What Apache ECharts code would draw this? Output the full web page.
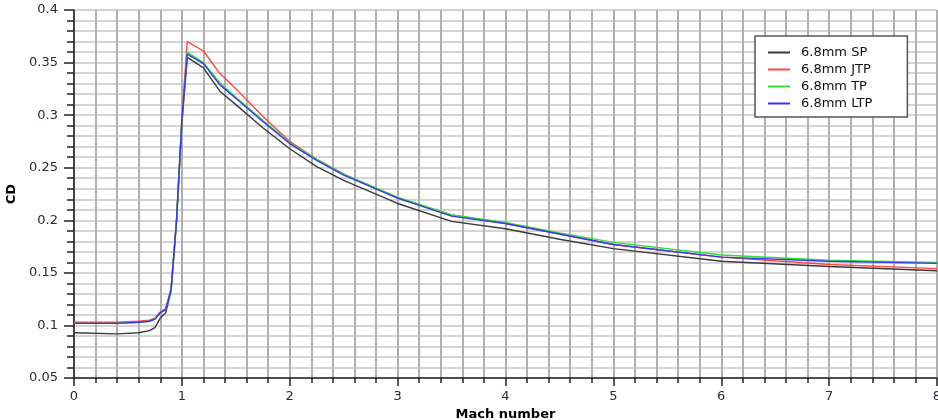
<!DOCTYPE html>
<html>
<head>
<meta charset="utf-8">
<script src="https://cdn.jsdelivr.net/npm/echarts@6/dist/echarts.min.js"></script>
<style>
html, body { margin: 0; padding: 0; background: #fff; }
#chart { width: 938px; height: 420px; }
</style>
</head>
<body>
<div id="chart"></div>
<script>
// Mach numbers shared by every series
var mach = [0, 0.4, 0.6, 0.7, 0.75, 0.8, 0.85, 0.9, 0.95, 1.0, 1.05, 1.2, 1.35, 1.5, 1.75, 2.0, 2.25, 2.5, 3.0, 3.5, 4.0, 4.5, 5.0, 6.0, 7.0, 8.0];
var cdSP  = [0.093, 0.092, 0.093, 0.095, 0.098, 0.107, 0.112, 0.133, 0.198, 0.292, 0.355, 0.345, 0.323, 0.310, 0.288, 0.268, 0.251, 0.238, 0.216, 0.199, 0.192, 0.182, 0.173, 0.161, 0.156, 0.152];
var cdJTP = [0.103, 0.103, 0.104, 0.105, 0.107, 0.113, 0.116, 0.135, 0.200, 0.298, 0.370, 0.361, 0.340, 0.325, 0.299, 0.275, 0.258, 0.244, 0.221, 0.205, 0.197, 0.187, 0.177, 0.165, 0.158, 0.154];
var cdTP  = [0.102, 0.102, 0.103, 0.104, 0.106, 0.112, 0.115, 0.134, 0.199, 0.295, 0.360, 0.350, 0.331, 0.317, 0.295, 0.274, 0.258, 0.244, 0.222, 0.205, 0.198, 0.188, 0.179, 0.167, 0.162, 0.160];
var cdLTP = [0.102, 0.102, 0.103, 0.104, 0.106, 0.112, 0.115, 0.134, 0.199, 0.295, 0.358, 0.349, 0.329, 0.316, 0.294, 0.273, 0.257, 0.243, 0.221, 0.204, 0.197, 0.187, 0.177, 0.165, 0.161, 0.159];
var names = ['6.8mm SP', '6.8mm JTP', '6.8mm TP', '6.8mm LTP'];
var colors = ['#3a3a3a', '#ff4545', '#30e030', '#3535ff'];

function pairs(ys) {
  return mach.map(function (m, i) { return [m, ys[i]]; });
}

var myChart = echarts.init(document.getElementById('chart'));
var allData = [cdSP, cdJTP, cdTP, cdLTP];
var series = allData.map(function (ys, i) {
  return {
    name: names[i],
    type: 'line',
    data: pairs(ys),
    symbol: 'none',
    smooth: false,
    lineStyle: { color: colors[i], width: 1.4 },
    itemStyle: { color: colors[i] }
  };
});

var option = {
  animation: false,
  backgroundColor: '#fff',
  grid: { left: 74, right: 1, top: 10, bottom: 42, outerBoundsMode: 'none', containLabel: false },
  legend: {
    orient: 'vertical',
    left: 755,
    top: 36,
    padding: [10, 35, 7, 13],
    backgroundColor: '#fff',
    borderColor: '#555',
    borderWidth: 1.5,
    itemGap: 4,
    itemWidth: 22,
    itemHeight: 2,
    icon: 'rect',
    data: names,
    textStyle: { fontFamily: 'DejaVu Sans', fontSize: 13, color: '#111', padding: [0, 0, 0, 6] }
  },
  xAxis: {
    type: 'value',
    min: 0, max: 8, interval: 1,
    name: 'Mach number',
    nameLocation: 'middle',
    nameGap: 25,
    nameTextStyle: { fontFamily: 'DejaVu Sans', fontWeight: 'bold', fontSize: 13, color: '#000' },
    axisLine: { show: true, onZero: false, lineStyle: { color: '#222', width: 1.5 } },
    axisTick: { show: true, length: 8, lineStyle: { color: '#222', width: 1.5 } },
    minorTick: { show: true, splitNumber: 5, length: 5, lineStyle: { color: '#222', width: 1.5 } },
    axisLabel: { margin: 12, fontFamily: 'DejaVu Sans', fontSize: 13, color: '#2a2a40' },
    splitLine: { show: true, lineStyle: { color: '#b0b0b0', width: 2 } },
    minorSplitLine: { show: true, lineStyle: { color: '#b0b0b0', width: 2 } }
  },
  yAxis: {
    type: 'value',
    min: 0.05, max: 0.4, interval: 0.05,
    name: 'CD',
    nameLocation: 'middle',
    nameGap: 52,
    nameRotate: 90,
    nameTextStyle: { fontFamily: 'DejaVu Sans', fontWeight: 'bold', fontSize: 13, color: '#000' },
    axisLine: { show: true, onZero: false, lineStyle: { color: '#222', width: 1.5 } },
    axisTick: { show: true, length: 10, lineStyle: { color: '#222', width: 1.5 } },
    minorTick: { show: true, splitNumber: 5, length: 7, lineStyle: { color: '#222', width: 1.5 } },
    axisLabel: {
      margin: 16, fontFamily: 'DejaVu Sans', fontSize: 13, color: '#2a2a40',
      formatter: function (v) { return String(+v.toFixed(2)); }
    },
    splitLine: { show: true, lineStyle: { color: '#d4d4d4', width: 2 } },
    minorSplitLine: { show: true, lineStyle: { color: '#d4d4d4', width: 2 } }
  },
  series: series
};
myChart.setOption(option);
</script>
</body>
</html>
